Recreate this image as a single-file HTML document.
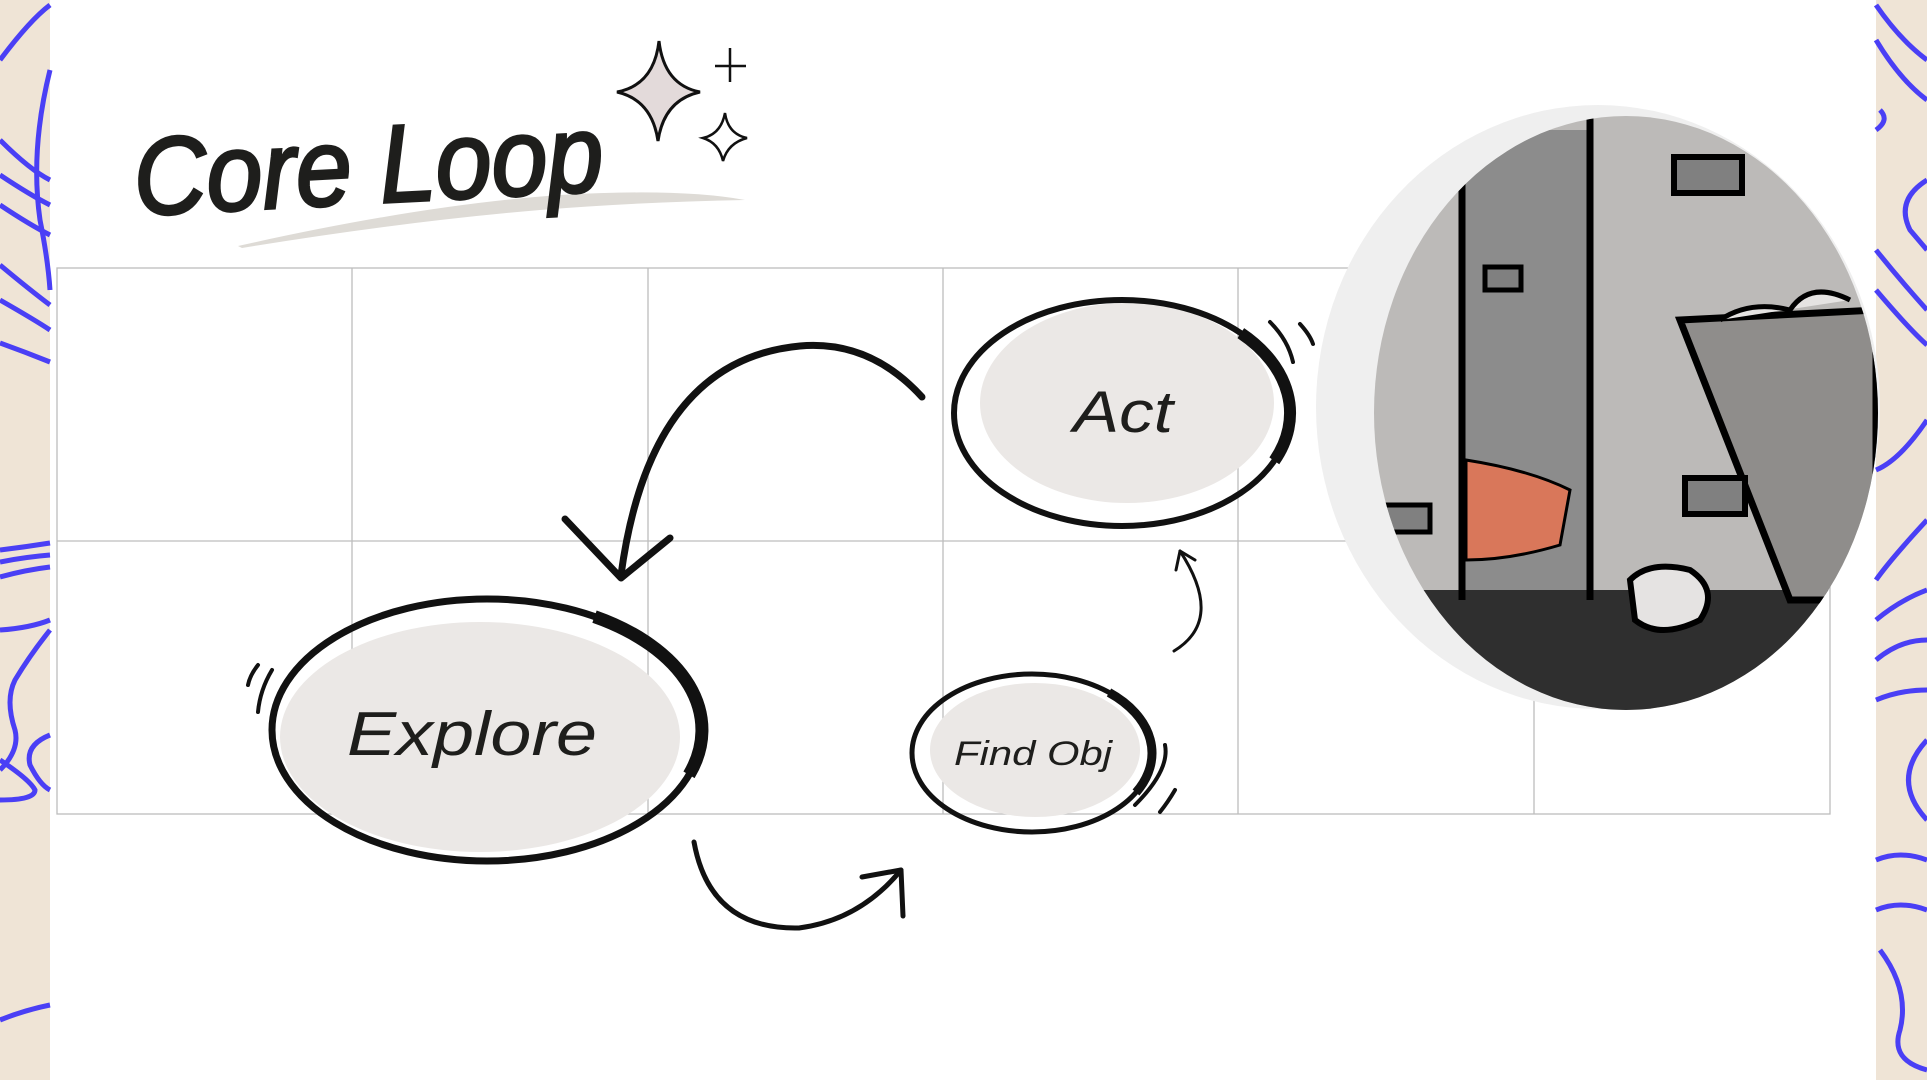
<!DOCTYPE html>
<html><head><meta charset="utf-8"><style>
html,body{margin:0;padding:0;background:#fff;}
body{width:1927px;height:1080px;overflow:hidden;position:relative;font-family:"Liberation Sans",sans-serif;}
svg{position:absolute;left:0;top:0;}
</style></head><body>
<svg width="1927" height="1080" viewBox="0 0 1927 1080">
<defs>
<clipPath id="pic"><ellipse cx="1626" cy="413" rx="252" ry="297"/></clipPath>
</defs>
<!-- side strips -->
<rect x="0" y="0" width="50" height="1080" fill="#efe4d6"/>
<rect x="1876" y="0" width="51" height="1080" fill="#efe4d6"/>
<g fill="none" stroke="#4a3ff5" stroke-width="5">
<path d="M0 60 Q30 20 50 5"/><path d="M50 70 Q30 150 40 220 Q48 260 50 290"/>
<path d="M0 140 Q30 170 50 180"/><path d="M0 175 Q30 195 50 205"/><path d="M0 205 Q30 225 50 235"/>
<path d="M0 265 Q30 290 50 305"/><path d="M0 300 Q35 320 50 330"/>
<path d="M0 343 Q25 352 50 362"/>
<path d="M0 550 Q25 547 50 543"/><path d="M0 562 Q25 557 50 555"/><path d="M0 577 Q25 570 50 567"/>
<path d="M0 630 Q30 628 50 620"/>
<path d="M50 630 Q30 655 15 680 Q5 700 15 730 Q20 750 0 770"/>
<path d="M50 735 Q25 745 30 765 Q40 785 50 790"/>
<path d="M0 760 Q30 780 35 790 Q35 800 0 800"/><path d="M0 1020 Q25 1010 50 1005"/>
<path d="M1876 5 Q1900 40 1927 60"/><path d="M1876 40 Q1900 80 1927 100"/><path d="M1880 110 Q1890 120 1876 130"/>
<path d="M1927 180 Q1895 200 1910 230 Q1927 250 1927 250"/><path d="M1876 250 Q1900 280 1927 310"/>
<path d="M1876 290 Q1910 330 1927 345"/><path d="M1927 420 Q1900 460 1876 470"/>
<path d="M1927 520 Q1890 560 1876 580"/><path d="M1876 620 Q1900 600 1927 590"/><path d="M1876 660 Q1900 640 1927 640"/>
<path d="M1876 700 Q1900 690 1927 690"/><path d="M1927 740 Q1890 780 1927 820"/><path d="M1876 860 Q1900 850 1927 860"/>
<path d="M1876 910 Q1900 900 1927 910"/><path d="M1880 950 Q1910 990 1900 1030 Q1890 1060 1927 1070"/>
</g>
<!-- grid -->
<g stroke="#bdbdbd" stroke-width="1.3" fill="none">
<rect x="57" y="268" width="1773" height="546"/>
<line x1="57" y1="541" x2="1830" y2="541"/>
<line x1="352" y1="268" x2="352" y2="814"/><line x1="648" y1="268" x2="648" y2="814"/>
<line x1="943" y1="268" x2="943" y2="814"/><line x1="1238" y1="268" x2="1238" y2="814"/>
<line x1="1534" y1="268" x2="1534" y2="814"/>
</g>
<!-- title -->
<path d="M238 246 Q420 205 560 195 Q680 188 745 200 Q640 202 540 210 Q400 222 242 248 Z" fill="#dedbd6"/>
<text x="133" y="203" font-size="110" font-style="italic" fill="#1e1e1c" textLength="470" lengthAdjust="spacingAndGlyphs" transform="rotate(-3 370 160)" stroke="#1e1e1c" stroke-width="3">Core Loop</text>
<path d="M659 41 Q664 85 700 92 Q664 100 658 141 Q652 100 617 92 Q654 85 659 41 Z" fill="#e3dada" stroke="#111" stroke-width="3"/>
<path d="M725 113 Q728 134 747 138 Q728 143 723 161 Q719 143 703 138 Q721 134 725 113 Z" fill="#fff" stroke="#111" stroke-width="2.5"/>
<path d="M730 48 V82 M715 66 H746" stroke="#111" stroke-width="2.5"/>
<!-- picture circle -->
<ellipse cx="1598" cy="407" rx="282" ry="302" fill="#efefef"/>
<g clip-path="url(#pic)">
<rect x="1370" y="100" width="520" height="620" fill="#bcbab8"/>
<rect x="1462" y="130" width="128" height="470" fill="#8c8c8c"/>
<rect x="1370" y="590" width="520" height="140" fill="#2f2f2f"/>
<path d="M1680 320 L1876 310 L1876 600 L1790 600 Z" fill="#8f8d8b" stroke="#000" stroke-width="7"/>
<line x1="1462" y1="180" x2="1462" y2="600" stroke="#000" stroke-width="7"/>
<line x1="1590" y1="110" x2="1590" y2="600" stroke="#000" stroke-width="7"/>
<rect x="1674" y="157" width="68" height="36" fill="#808080" stroke="#000" stroke-width="6"/>
<rect x="1485" y="267" width="36" height="23" fill="#808080" stroke="#000" stroke-width="5"/>
<rect x="1685" y="478" width="60" height="36" fill="#808080" stroke="#000" stroke-width="6"/>
<rect x="1380" y="505" width="50" height="27" fill="#808080" stroke="#000" stroke-width="5"/>
<path d="M1466 460 Q1530 470 1570 490 L1560 545 Q1510 560 1466 560 Z" fill="#d9775a" stroke="#000" stroke-width="3"/>
<path d="M1630 580 Q1650 560 1690 570 Q1720 590 1700 620 Q1660 640 1635 620 Z" fill="#e5e3e2" stroke="#000" stroke-width="6"/>
<path d="M1720 320 Q1750 300 1790 310 Q1810 280 1850 300" fill="#e5e3e2" stroke="#000" stroke-width="5"/>
</g>
<!-- wiggle marks -->
<g fill="none" stroke="#111" stroke-width="4" stroke-linecap="round">
<path d="M1270 322 Q1288 340 1293 362"/><path d="M1300 324 Q1310 335 1313 344"/>
<path d="M258 665 Q250 675 248 685"/><path d="M272 670 Q260 690 258 712"/>
<path d="M1165 745 Q1170 770 1135 805"/><path d="M1175 790 Q1168 802 1160 812"/>
</g>
<!-- nodes -->
<ellipse cx="1127" cy="403" rx="147" ry="100" fill="#ebe8e6"/>
<ellipse cx="1122" cy="413" rx="168" ry="113" fill="none" stroke="#111" stroke-width="6"/>
<path d="M1240.8 333.1 A168 113 0 0 1 1274.3 460.8" fill="none" stroke="#111" stroke-width="12"/>
<text x="1073" y="432" font-size="58" font-style="italic" fill="#1e1e1c" textLength="100" lengthAdjust="spacingAndGlyphs">Act</text>
<ellipse cx="480" cy="737" rx="200" ry="115" fill="#ebe8e6"/>
<ellipse cx="487" cy="730" rx="215" ry="131" fill="none" stroke="#111" stroke-width="7"/>
<path d="M594.5 616.6 A215 131 0 0 1 689 774.8" fill="none" stroke="#111" stroke-width="13"/>
<text x="347" y="755" font-size="62" font-style="italic" fill="#1e1e1c" textLength="250" lengthAdjust="spacingAndGlyphs">Explore</text>
<ellipse cx="1035" cy="750" rx="105" ry="67" fill="#ebe8e6"/>
<ellipse cx="1032" cy="753" rx="120" ry="79" fill="none" stroke="#111" stroke-width="5"/>
<path d="M1109 692.5 A120 79 0 0 1 1136 792.5" fill="none" stroke="#111" stroke-width="9"/>
<text x="954" y="765" font-size="34" font-style="italic" fill="#1e1e1c" textLength="158" lengthAdjust="spacingAndGlyphs">Find Obj</text>
<!-- arrows -->
<g fill="none" stroke="#111" stroke-linecap="round" stroke-linejoin="round">
<path d="M922 397 Q870 340 800 346 Q650 360 621 575" stroke-width="7"/>
<path d="M565 519 L621 578 L670 538" stroke-width="7"/>
<path d="M694 842 Q710 930 799 928 Q860 920 901 870" stroke-width="5"/>
<path d="M862 877 L901 870 L903 916" stroke-width="5"/>
<path d="M1174 651 Q1225 620 1180 551" stroke-width="3"/>
<path d="M1176 570 L1180 551 L1195 560" stroke-width="3"/>
</g>
</svg>
</body></html>
